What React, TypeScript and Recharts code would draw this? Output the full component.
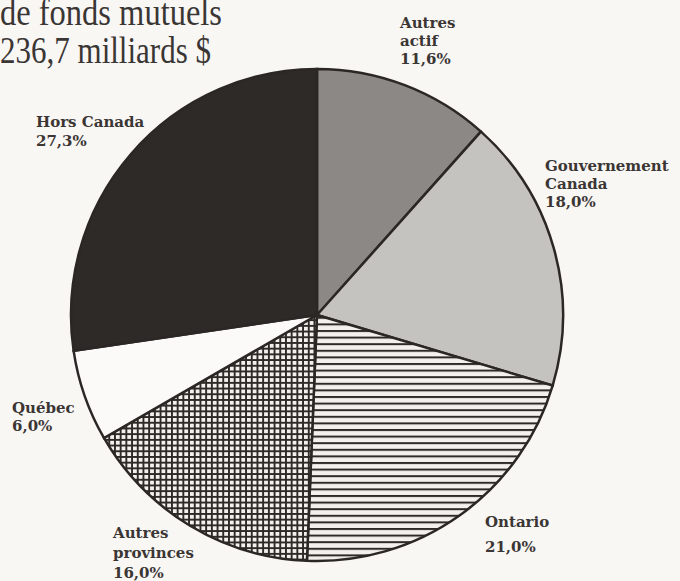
import { Cell, Pie, PieChart } from "recharts"

const categories = ["Autres actif", "Gouvernement Canada", "Ontario", "Autres provinces", "Québec", "Hors Canada"]
const shares = [11.6, 18.0, 21.0, 16.0, 6.0, 27.3]
const titleLines = ["de fonds mutuels", "236,7 milliards $"]

// label lines for each slice (name split as printed)
const labelLines = [["Autres", "actif"], ["Gouvernement", "Canada"], ["Ontario"], ["Autres", "provinces"], ["Québec"], ["Hors Canada"]]

const fills = ["#8b8885", "#c5c3c0", "url(#hlines)", "url(#grid)", "#fbfaf8", "#2e2a27"]
// where each label block starts (x, first baseline, line gap)
const labelPos = [
  { x: 400, y: 28, gap: 18 },
  { x: 545, y: 171, gap: 18 },
  { x: 485, y: 527, gap: 25 },
  { x: 113, y: 538, gap: 20 },
  { x: 12, y: 413, gap: 18 },
  { x: 36, y: 127, gap: 19 },
]
const titleWidths = [222, 211]

const data = categories.map((name, i) => ({ name, value: shares[i] }))

const fmt = (v: number) => v.toFixed(1).replace(".", ",") + "%"

function SliceLabel(props: any) {
  const { index, value } = props
  const p = labelPos[index]
  const lines = [...labelLines[index], fmt(value)]
  return (
    <text x={p.x} y={p.y} fill="#3b3634" fontFamily="'DejaVu Serif', serif" fontWeight="bold" fontSize={15}>
      {lines.map((l, k) => (
        <tspan key={k} x={p.x} y={p.y + k * p.gap}>{l}</tspan>
      ))}
    </text>
  )
}

export default function App() {
  return (
    <div style={{ position: "absolute", left: 0, top: 0, width: 680, height: 581, background: "#f8f7f4", overflow: "hidden" }}>
      <PieChart width={680} height={581} margin={{ top: 0, right: 0, bottom: 0, left: 0 }}>
        <defs>
          <pattern id="hlines" width="8" height="6.6" patternUnits="userSpaceOnUse">
            <rect width="8" height="6.6" fill="#f3f1ed" />
            <rect y="0" width="8" height="2" fill="#2e2a27" />
          </pattern>
          <pattern id="grid" width="5.7" height="5.7" patternUnits="userSpaceOnUse">
            <rect width="5.7" height="5.7" fill="#f3f1ed" />
            <rect width="5.7" height="1.9" fill="#2e2a27" />
            <rect width="1.9" height="5.7" fill="#2e2a27" />
          </pattern>
        </defs>
        {titleLines.map((t, k) => (
          <text
            key={k}
            x={0}
            y={25 + k * 38}
            fill="#3a3634"
            fontFamily="'Liberation Serif', serif"
            fontSize={38}
            textLength={titleWidths[k]}
            lengthAdjust="spacingAndGlyphs"
          >
            {t}
          </text>
        ))}
        <Pie
          data={data}
          dataKey="value"
          nameKey="name"
          cx={317}
          cy={315}
          outerRadius={246}
          startAngle={90}
          endAngle={-270}
          stroke="#2b2725"
          strokeWidth={2.5}
          label={SliceLabel}
          labelLine={false}
          isAnimationActive={false}
        >
          {data.map((d, i) => (
            <Cell key={d.name} fill={fills[i]} />
          ))}
        </Pie>
      </PieChart>
    </div>
  )
}
